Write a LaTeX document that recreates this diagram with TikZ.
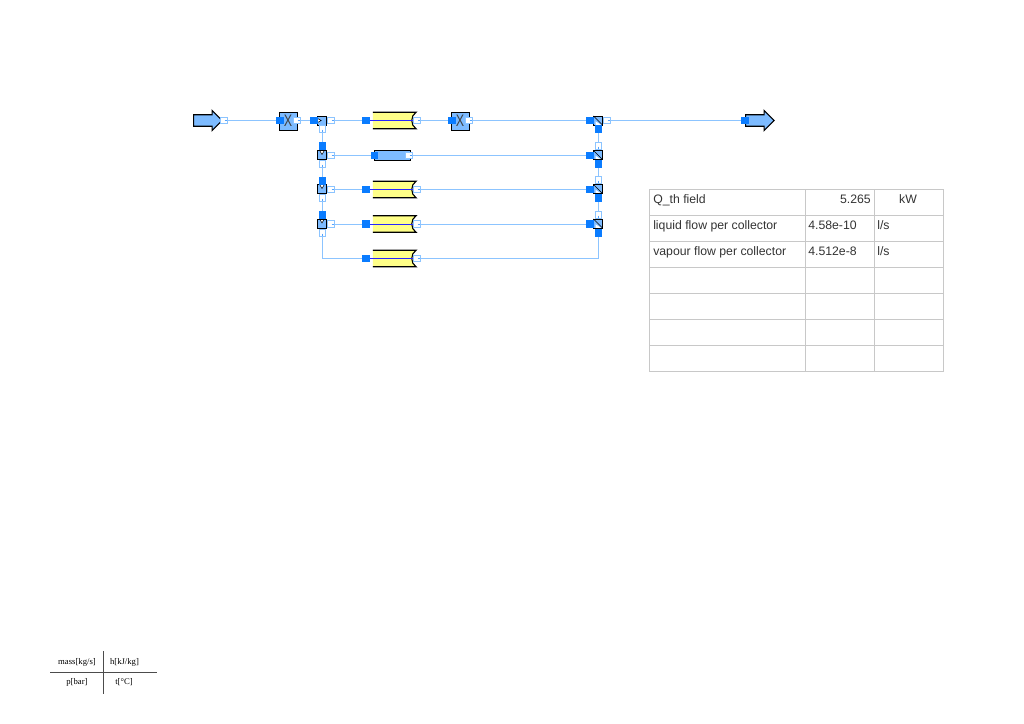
\documentclass[tikz,border=0pt]{standalone}
\usepackage{fontspec}
\setmainfont{Liberation Sans}
\newfontfamily\legendfont{Liberation Serif}
\usetikzlibrary{arrows.meta,shapes.arrows,positioning,calc,backgrounds}
\definecolor{pipeblue}{HTML}{8CC4FF}
\definecolor{portblue}{HTML}{0A7CFF}
\definecolor{bodyblue}{HTML}{7DBBFF}
\definecolor{collyellow}{HTML}{FFFF88}
\definecolor{gridgray}{HTML}{C8C8C8}
\tikzset{
    pipe/.style={draw=pipeblue, line width=0.75pt},
    inp/.style={rectangle, fill=portblue, minimum size=5.4pt, inner sep=0pt},
    outp/.style={rectangle, draw=pipeblue, fill=white, line width=0.75pt, minimum size=5pt, inner sep=0pt,
        path picture={\draw[portblue!70, line width=0.45pt] ([xshift=0.4pt]path picture bounding box.center) -- ([xshift=2.5pt]path picture bounding box.center);}},
    outd/.style={outp, rotate=-90},
    ends/.style={single arrow, draw=black, fill=bodyblue, line width=0.8pt, inner sep=0pt, single arrow head extend=3.2pt, single arrow tip angle=90, minimum height=21.5pt, anchor=west},
    xbox/.style={rectangle, draw=black, fill=bodyblue, line width=0.7pt, minimum size=13.5pt, inner sep=0pt, font=\fontsize{12.5}{12.5}\selectfont, text=black!75},
    valve/.style={rectangle, draw=black, fill=bodyblue, line width=0.7pt, minimum size=6.8pt, inner sep=0pt},
    splitr/.style={valve, path picture={\draw[black, fill=white, line width=0.4pt] ([xshift=-3.4pt,yshift=1.6pt]path picture bounding box.center) -- ([xshift=-0.6pt]path picture bounding box.center) -- ([xshift=-3.4pt,yshift=-1.6pt]path picture bounding box.center);}},
    splitd/.style={valve, path picture={\draw[black, fill=white, line width=0.4pt] ([xshift=-1.8pt,yshift=3.4pt]path picture bounding box.center) -- ([yshift=0.4pt]path picture bounding box.center) -- ([xshift=1.8pt,yshift=3.4pt]path picture bounding box.center) -- cycle;}},
    mrg/.style={valve, path picture={
        \fill[white] ([xshift=-1.8pt,yshift=-0.6pt]path picture bounding box.center) -- ([xshift=2.4pt,yshift=-3.4pt]path picture bounding box.center) -- ([xshift=-1.8pt,yshift=-3.4pt]path picture bounding box.center) -- cycle;
        \draw[black, line width=0.4pt] (path picture bounding box.north west) -- (path picture bounding box.south east);}},
    coll/.style={rectangle, minimum width=32.2pt, minimum height=12pt, inner sep=0pt},
    tube/.style={rectangle, draw=black, fill=bodyblue, line width=0.7pt, minimum width=27pt, minimum height=7.5pt, inner sep=0pt},
    cell/.style={font=\fontsize{9.2}{9.2}\selectfont, text=black!80, inner sep=0pt},
    legendtxt/.style={font=\legendfont\fontsize{6.5}{6.5}\selectfont, inner sep=0pt}
}
% yellow collector: name, x, y
\newcommand{\collector}[3]{
    \node[coll] (#1) at (#2,#3) {};
    \draw[draw=none, fill=collyellow] (#1.north west) -- (#1.north east) .. controls ($(#1.north east)+(-6,3)$) and ($(#1.south east)+(-6,-3)$) .. (#1.south east) -- (#1.south west) -- cycle;
    \draw[black, line width=0.8pt] (#1.north west) -- (#1.north east) .. controls ($(#1.north east)+(-6,3)$) and ($(#1.south east)+(-6,-3)$) .. (#1.south east) -- (#1.south west);
    \node[inp] (#1i) at (366,#3) {};
    \node[outp] (#1o) at (417,#3) {};
    \draw[blue!85!white, line width=0.6pt] (#1i) -- (#1o);
    \node[inp] at (#1i) {};
    \node[outp] at (#1o) {};
}

\begin{document}
\begin{tikzpicture}[x=0.75pt, y=-0.75pt]
\useasboundingbox (0,0) rectangle (1024,724);

% line
\node[ends] (src) at (193,120.5) {\rule{0pt}{7.8pt}};
\node[outp] (srco) at (224,120.5) {};
\node[xbox] (xa) at (288,121) {\scalebox{.75}[1]{X}};
\node[inp] (xai) at (280,120.5) {};
\node[outp] (xao) at (297,120.5) {};
\node[xbox] (xb) at (460,121) {\scalebox{.75}[1]{X}};
\node[inp] (xbi) at (452,120.5) {};
\node[outp] (xbo) at (469,120.5) {};
\node[ends] (snk) at (745,120.5) {\rule{0pt}{7.8pt}};
\node[inp] (snki) at (745,120.5) {};

% splitters
\node[splitr] (sa) at (322,120.5) {};
\node[inp] (sai) at (314,120.5) {};
\node[outp] (sao) at (331,120.5) {};
\node[outd] (sab) at (322.5,129) {};
\node[splitd] (sb) at (322,155) {};
\node[inp] (sbi) at (322.5,146) {};
\node[outp] (sbo) at (331,155.5) {};
\node[outd] (sbb) at (322.5,164) {};
\node[splitd] (sc) at (322,189) {};
\node[inp] (sci) at (322.5,181) {};
\node[outp] (sco) at (331,189.5) {};
\node[outd] (scb) at (322.5,198) {};
\node[splitd] (sd) at (322,223.5) {};
\node[inp] (sdi) at (322.5,215) {};
\node[outp] (sdo) at (331,224) {};
\node[outd] (sdb) at (322.5,233) {};

% mergers
\node[mrg] (ma) at (598,120.5) {};
\node[inp] (mai) at (590,120.5) {};
\node[outp] (mao) at (607,120.5) {};
\node[inp] (mab) at (598.5,129) {};
\node[mrg] (mb) at (598,155) {};
\node[inp] (mbi) at (590,155.5) {};
\node[outd] (mbt) at (598.5,146) {};
\node[inp] (mbb) at (598.5,164) {};
\node[mrg] (mc) at (598,189) {};
\node[inp] (mci) at (590,189.5) {};
\node[outd] (mct) at (598.5,180) {};
\node[inp] (mcb) at (598.5,198) {};
\node[mrg] (md) at (598,223.5) {};
\node[inp] (mdi) at (590,224) {};
\node[outd] (mdt) at (598.5,215) {};
\node[inp] (mdb) at (598.5,233) {};

% collectors
\collector{ca}{394.5}{120.5}
\collector{cc}{394.5}{189.5}
\collector{cd}{394.5}{224}
\collector{ce}{394.5}{258.5}
\node[tube] (cb) at (392,155.5) {};
\node[inp] (cbi) at (374.5,155.5) {};
\node[outp] (cbo) at (409,155.5) {};

\begin{scope}[on background layer]
\draw[pipe] (srco) -- (xai);
\draw[pipe] (xao) -- (sai);
\draw[pipe] (sao) -- (cai);
\draw[pipe] (cao) -- (xbi);
\draw[pipe] (xbo) -- (mai);
\draw[pipe] (mao) -- (snki);
\draw[pipe] (sab) -- (sbi);
\draw[pipe] (sbb) -- (sci);
\draw[pipe] (scb) -- (sdi);
\draw[pipe] (sbo) -- (cbi);
\draw[pipe] (sco) -- (cci);
\draw[pipe] (sdo) -- (cdi);
\draw[pipe] (sdb) |- (cei);
\draw[pipe] (cbo) -- (mbi);
\draw[pipe] (cco) -- (mci);
\draw[pipe] (cdo) -- (mdi);
\draw[pipe] (ceo) -| (mdb);
\draw[pipe] (mdt) -- (mcb);
\draw[pipe] (mct) -- (mbb);
\draw[pipe] (mbt) -- (mab);
\end{scope}

% result table
\draw[gridgray, line width=0.6pt] (649,189) rectangle (943,371);
\foreach \yy in {215,241,267,293,319,345}
    \draw[gridgray, line width=0.6pt] (649,\yy) -- (943,\yy);
\foreach \xx in {805,874}
    \draw[gridgray, line width=0.6pt] (\xx,189) -- (\xx,371);
\node[cell, anchor=base west] (qth) at (653,203.5) {Q\_th field};
\node[cell, anchor=base east] (qval) at (871,203.5) {5.265};
\node[cell, anchor=base] (qunit) at (908,203.5) {kW};
\node[cell, anchor=base west] (liq) at (653,229.5) {liquid flow per collector};
\node[cell, anchor=base west] (liqval) at (808,229.5) {4.58e-10};
\node[cell, anchor=base west] (liqunit) at (877,229.5) {l/s};
\node[cell, anchor=base west] (vap) at (653,255.5) {vapour flow per collector};
\node[cell, anchor=base west] (vapval) at (808,255.5) {4.512e-8};
\node[cell, anchor=base west] (vapunit) at (877,255.5) {l/s};

% legend
\draw[black!70, line width=0.6pt] (103,651) -- (103,694);
\draw[black!70, line width=0.6pt] (50,672) -- (157,672);
\node[legendtxt, anchor=base] (lmass) at (77,664) {mass[kg/s]};
\node[legendtxt, anchor=base] (lh) at (124.5,664) {h[kJ/kg]};
\node[legendtxt, anchor=base] (lp) at (77,684.5) {p[bar]};
\node[legendtxt, anchor=base] (lt) at (124,684.5) {t[°C]};
\end{tikzpicture}
\end{document}
